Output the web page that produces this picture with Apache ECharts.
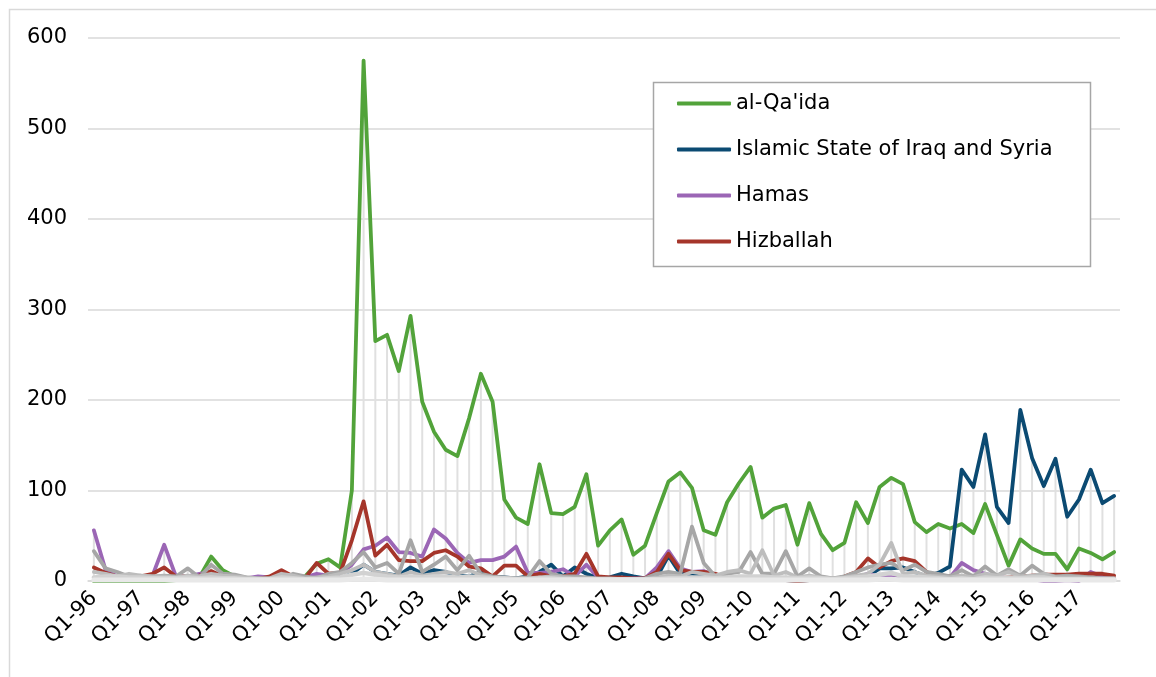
<!DOCTYPE html>
<html>
<head>
<meta charset="utf-8">
<script src="https://cdn.jsdelivr.net/npm/echarts@6/dist/echarts.min.js"></script>
<style>html,body{margin:0;padding:0;background:#fff}#c{width:1156px;height:677px}</style>
</head>
<body>
<div id="c"></div>
<script>
var years = ['96','97','98','99','00','01','02','03','04','05','06','07','08','09','10','11','12','13','14','15','16','17'];
var quarters = ['Q1','Q2','Q3','Q4'];
var seriesNames = ["al-Qa'ida", 'Islamic State of Iraq and Syria', 'Hamas', 'Hizballah'];

var alQaida = [0,0,0,0,0,0,0,1,2,4, 27,12,5,3,2,1,2,3,5,19, 24,15,100,575,265,272,232,293,198,165, 145,138,180,229,198,90,70,63,129,75, 74,82,118,39,56,68,29,39,75,110, 120,103,56,51,87,108,126,70,80,84, 40,86,52,34,42,87,64,104,114,107, 65,54,63,58,63,53,85,51,17,46, 36,30,30,13,36,31,24,32];
var isis = [null,null,null,null,null,null,null,null,null,null, null,null,null,null,null,null,null,null,null,null, 1,3,8,18,10,8,6,15,8,12, 10,6,5,10,5,4,3,5,10,18, 5,15,8,3,4,8,5,3,4,28, 8,8,5,3,2,2,1,1,1,1, 0,1,1,1,2,3,5,14,14,15, 10,5,9,16,123,104,162,82,64,189, 136,105,135,71,90,123,86,94];
var hamas = [56,12,5,3,5,6,40,5,5,8, 10,6,4,3,5,4,3,2,4,8, 6,8,18,35,39,48,32,31,27,57, 47,31,20,23,23,27,38,9,9,10, 13,5,18,4,3,3,3,3,15,33, 14,10,11,6,3,2,2,2,2,2, 1,1,1,1,2,4,8,5,4,4, 3,3,3,4,20,12,8,5,3,3, 2,0,0,1,0,10,5,3];
var hizballah = [15,9,5,3,5,8,15,5,5,6, 11,5,4,3,2,5,12,5,3,20, 8,9,45,88,28,40,23,22,22,31, 34,27,16,14,5,17,17,5,8,5, 5,8,30,5,4,4,3,3,10,30, 12,10,10,8,3,2,2,1,1,1, 0,1,1,1,5,10,25,15,22,25, 22,10,5,5,5,4,3,3,4,5, 6,7,7,7,8,8,8,6];
var other1 = [33,14,10,5,6,5,6,5,14,4, 18,8,7,4,3,3,2,8,5,3, 8,10,20,32,15,20,8,45,10,18, 27,12,28,8,5,4,3,4,22,8, 5,5,4,3,3,2,2,3,8,10, 8,60,20,5,8,10,32,8,8,33, 5,14,5,3,5,10,15,18,20,12, 18,10,8,5,12,5,16,6,13,6, 17,8,5,6,5,4,3,3];
var other2 = [10,8,5,8,6,5,5,4,6,5, 8,6,5,4,3,3,8,6,3,4, 5,8,12,18,10,8,5,10,6,8, 10,8,12,6,4,3,3,3,4,5, 4,3,3,2,2,2,2,2,4,6, 5,10,8,6,10,12,8,34,6,10, 4,6,4,3,4,6,8,18,42,8, 10,6,5,4,6,4,8,6,10,5, 6,8,4,4,4,3,3,3];
var other3 = [4,5,5,4,4,3,3,3,4,3, 4,3,3,2,2,2,4,3,2,2, 3,4,7,9,7,5,4,5,4,5, 5,4,5,4,3,3,2,2,3,3, 2,2,2,2,2,2,2,2,2,3, 3,4,4,3,4,5,5,5,4,4, 3,4,3,2,3,4,5,7,9,5, 5,4,3,2,3,2,4,3,4,3, 4,4,2,2,2,2,2,2];
var other4 = [1,1,1,1,1,1,1,1,1,1, 1,1,1,1,1,1,1,1,1,1, 1,1,2,2,2,1,1,1,1,1, 1,1,1,1,1,1,1,1,1,1, 1,1,1,1,1,1,1,1,1,1, 1,1,1,1,1,1,1,1,1,1, 1,1,1,1,1,1,1,2,2,1, 1,1,1,1,1,1,1,1,1,1, 1,1,1,1,1,1,1,1];

var categories = [];
years.forEach(function (y) { quarters.forEach(function (q) { categories.push(q + '-' + y); }); });

var all = [alQaida, isis, hamas, hizballah, other1, other2, other3, other4];
var dropMax = categories.map(function (_, i) {
  return Math.max.apply(null, all.map(function (a) { return a[i] == null ? 0 : a[i]; }));
});

var FONT = 'DejaVu Sans';
function line(name, data, color, z, w) {
  return { name: name, type: 'line', data: data, symbol: 'none', z: z, silent: true,
    lineStyle: { color: color, width: w || 3.8, cap: 'round', join: 'round' }, itemStyle: { color: color } };
}

var chart = echarts.init(document.getElementById('c'), null, { renderer: 'canvas' });
chart.setOption({
  animation: false,
  backgroundColor: '#fff',
  grid: { left: 88, right: 36, top: 38, bottom: 96 },
  xAxis: {
    type: 'category', data: categories, boundaryGap: true,
    axisLine: { lineStyle: { color: '#d9d9d9', width: 1.5 } },
    axisTick: { show: false },
    axisLabel: { interval: 3, rotate: 45, fontSize: 21, color: '#000', fontFamily: FONT, margin: 14 }
  },
  yAxis: {
    type: 'value', min: 0, max: 600, interval: 100,
    axisLine: { show: false }, axisTick: { show: false },
    axisLabel: { fontSize: 21, color: '#000', fontFamily: FONT, margin: 21 },
    splitLine: { lineStyle: { color: '#d9d9d9', width: 1.5 } }
  },
  legend: {
    data: seriesNames, orient: 'vertical', left: 677, top: 93, padding: 0, z: 20,
    itemWidth: 54, itemHeight: 4, itemGap: 25, icon: 'roundRect',
    textStyle: { fontSize: 21, color: '#000', fontFamily: FONT }
  },
  graphic: [
    { type: 'rect', shape: { x: 9.5, y: 9.5, width: 1200, height: 700 }, style: { fill: null, stroke: '#d9d9d9', lineWidth: 1.5 }, silent: true, z: 0 },
    { type: 'rect', shape: { x: 653.5, y: 82.5, width: 437, height: 184 }, style: { fill: '#fff', stroke: '#a6a6a6', lineWidth: 1.5 }, z: 1, silent: true }
  ],
  series: [
    { name: 'drop', type: 'bar', data: dropMax, barWidth: 2, silent: true, z: 1, itemStyle: { color: '#e0e0e0' } },
    line(seriesNames[0], alQaida, '#52a33a', 3),
    line(seriesNames[1], isis, '#0b4a72', 4),
    line(seriesNames[2], hamas, '#9b66b5', 5),
    line(seriesNames[3], hizballah, '#a5352a', 6),
    line('o1', other1, '#a6a6a6', 7),
    line('o2', other2, '#bdbdbd', 8),
    line('o3', other3, '#d2d2d2', 9, 4.5),
    line('o4', other4, '#e8e8e8', 10, 5)
  ]
});
</script>
</body>
</html>
